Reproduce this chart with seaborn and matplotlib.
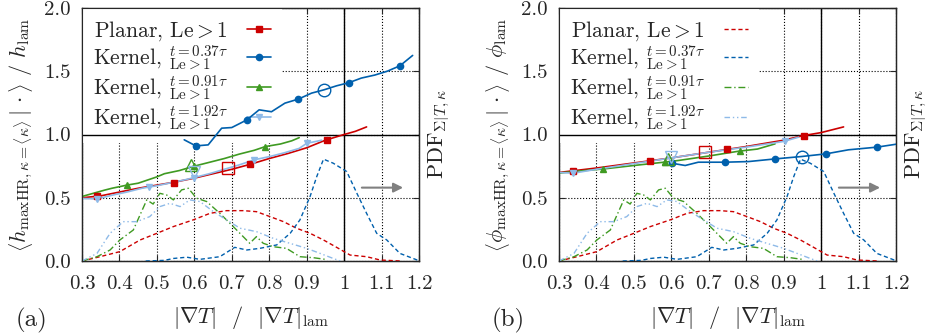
import matplotlib
matplotlib.use('Agg')
import matplotlib.pyplot as plt
from matplotlib.lines import Line2D
import seaborn as sns

# ---- colours ----
RED = '#cc0000'
BLUE = '#0060ad'
GREEN = '#3f9a22'
LBLUE = '#8ebae8'

# ---- panel (a): conditional mean of h ----
planar_h_x = [0.30, 0.35, 0.40, 0.45, 0.50, 0.55, 0.60, 0.65, 0.70, 0.75, 0.80, 0.85, 0.90, 0.95, 1.00, 1.03, 1.06]
planar_h_y = [0.50, 0.515, 0.545, 0.575, 0.60, 0.625, 0.655, 0.69, 0.725, 0.765, 0.81, 0.85, 0.895, 0.955, 1.00, 1.025, 1.06]
planar_h_mx = [0.34, 0.545, 0.748, 0.953]
planar_h_my = [0.51, 0.615, 0.768, 0.958]
planar_h_mean = (0.69, 0.733)

k037_h_x = [0.573, 0.604, 0.637, 0.673, 0.70, 0.74, 0.773, 0.806, 0.842, 0.878, 0.913, 0.946, 0.98, 1.013, 1.046, 1.082, 1.115, 1.149, 1.183]
k037_h_y = [0.958, 0.91, 0.918, 1.05, 1.055, 1.115, 1.195, 1.18, 1.248, 1.28, 1.327, 1.353, 1.385, 1.41, 1.446, 1.47, 1.50, 1.543, 1.625]
k037_h_mx = [0.604, 0.74, 0.878, 1.013, 1.149]
k037_h_my = [0.91, 1.115, 1.28, 1.41, 1.543]
k037_h_mean = (0.946, 1.353)

k091_h_x = [0.30, 0.33, 0.36, 0.38, 0.42, 0.45, 0.47, 0.50, 0.52, 0.56, 0.60, 0.64, 0.68, 0.72, 0.76, 0.79, 0.83, 0.86, 0.88]
k091_h_y = [0.51, 0.535, 0.56, 0.575, 0.60, 0.615, 0.635, 0.665, 0.69, 0.715, 0.75, 0.78, 0.81, 0.845, 0.875, 0.905, 0.925, 0.95, 0.975]
k091_h_mx = [0.42, 0.60, 0.79]
k091_h_my = [0.60, 0.75, 0.905]
k091_h_mean = (0.59, 0.755)

k192_h_x = [0.30, 0.34, 0.38, 0.42, 0.46, 0.50, 0.54, 0.58, 0.60, 0.64, 0.68, 0.72, 0.76, 0.80, 0.84, 0.88, 0.90, 0.94]
k192_h_y = [0.495, 0.49, 0.52, 0.545, 0.575, 0.595, 0.62, 0.645, 0.66, 0.69, 0.725, 0.76, 0.80, 0.825, 0.855, 0.89, 0.93, 0.955]
k192_h_mx = [0.34, 0.48, 0.60, 0.76, 0.90]
k192_h_my = [0.49, 0.585, 0.66, 0.80, 0.93]
k192_h_mean = (0.60, 0.70)

# ---- panel (b): conditional mean of phi ----
planar_p_x = [0.30, 0.40, 0.50, 0.60, 0.70, 0.80, 0.90, 0.95, 1.00, 1.06]
planar_p_y = [0.70, 0.735, 0.775, 0.815, 0.86, 0.905, 0.955, 0.99, 1.015, 1.06]
planar_p_mx = [0.338, 0.543, 0.748, 0.953]
planar_p_my = [0.715, 0.794, 0.884, 0.992]
planar_p_mean = (0.69, 0.865)

k037_p_x = [0.601, 0.637, 0.672, 0.708, 0.742, 0.806, 0.877, 0.948, 1.013, 1.073, 1.149, 1.20]
k037_p_y = [0.773, 0.755, 0.781, 0.781, 0.781, 0.786, 0.807, 0.826, 0.847, 0.879, 0.90, 0.923]
k037_p_mx = [0.601, 0.742, 0.877, 1.013, 1.149]
k037_p_my = [0.773, 0.781, 0.807, 0.847, 0.90]
k037_p_mean = (0.948, 0.826)

k091_p_x = [0.30, 0.35, 0.42, 0.50, 0.58, 0.62, 0.70, 0.78, 0.83, 0.877]
k091_p_y = [0.695, 0.71, 0.728, 0.755, 0.781, 0.795, 0.83, 0.868, 0.885, 0.926]
k091_p_mx = [0.418, 0.583, 0.784]
k091_p_my = [0.728, 0.781, 0.871]
k091_p_mean = (0.59, 0.81)

k192_p_x = [0.30, 0.338, 0.40, 0.50, 0.60, 0.70, 0.80, 0.90, 0.94]
k192_p_y = [0.70, 0.694, 0.725, 0.77, 0.815, 0.86, 0.90, 0.945, 0.979]
k192_p_mx = [0.338, 0.903]
k192_p_my = [0.694, 0.945]
k192_p_mean = (0.60, 0.826)

# ---- PDFs (same in both panels, right axis) ----
pdf_planar_x = [0.30, 0.348, 0.401, 0.455, 0.50, 0.544, 0.597, 0.642, 0.686, 0.731, 0.766, 0.802, 0.838, 0.873, 0.909, 0.945, 0.98, 1.016, 1.06, 1.096, 1.15]
pdf_planar_y = [0.0, 0.034, 0.074, 0.166, 0.219, 0.272, 0.325, 0.377, 0.398, 0.398, 0.39, 0.351, 0.311, 0.259, 0.219, 0.166, 0.108, 0.047, 0.034, 0.008, 0.0]

pdf_k037_x = [0.47, 0.52, 0.544, 0.58, 0.615, 0.668, 0.708, 0.74, 0.775, 0.82, 0.856, 0.882, 0.909, 0.927, 0.945, 0.971, 1.007, 1.034, 1.06, 1.087, 1.114, 1.149, 1.195, 1.20]
pdf_k037_y = [0.0, 0.005, 0.02, 0.03, 0.013, 0.034, 0.108, 0.087, 0.10, 0.127, 0.219, 0.325, 0.509, 0.668, 0.805, 0.773, 0.707, 0.536, 0.377, 0.219, 0.166, 0.06, 0.008, 0.005]

pdf_k091_x = [0.30, 0.34, 0.375, 0.401, 0.437, 0.473, 0.49, 0.508, 0.526, 0.544, 0.566, 0.584, 0.606, 0.633, 0.668, 0.704, 0.748, 0.766, 0.784, 0.811, 0.846, 0.882, 0.918, 0.95]
pdf_k091_y = [0.0, 0.034, 0.087, 0.166, 0.245, 0.483, 0.45, 0.535, 0.522, 0.483, 0.562, 0.575, 0.496, 0.47, 0.377, 0.272, 0.14, 0.193, 0.14, 0.113, 0.10, 0.034, 0.026, 0.013]

pdf_k192_x = [0.30, 0.34, 0.375, 0.41, 0.446, 0.481, 0.508, 0.535, 0.562, 0.588, 0.615, 0.651, 0.686, 0.722, 0.766, 0.811, 0.855, 0.90, 0.936, 0.971, 0.99]
pdf_k192_y = [0.0, 0.06, 0.219, 0.311, 0.311, 0.351, 0.43, 0.456, 0.43, 0.483, 0.47, 0.39, 0.325, 0.259, 0.232, 0.179, 0.14, 0.10, 0.06, 0.02, 0.0]

x_ticks = [0.3, 0.4, 0.5, 0.6, 0.7, 0.8, 0.9, 1.0, 1.1, 1.2]
x_ticklabels = ['0.3', '0.4', '0.5', '0.6', '0.7', '0.8', '0.9', '1', '1.1', '1.2']
y_ticks = [0.0, 0.5, 1.0, 1.5, 2.0]
y_ticklabels = ['0.0', '0.5', '1.0', '1.5', '2.0']

legend_labels = [r'Planar, $\mathrm{Le}>1$',
                 r'Kernel, $^{t=0.37\tau}_{\mathrm{Le}>1}$',
                 r'Kernel, $^{t=0.91\tau}_{\mathrm{Le}>1}$',
                 r'Kernel, $^{t=1.92\tau}_{\mathrm{Le}>1}$']

sns.set_style('ticks')
plt.rcParams['font.family'] = 'serif'
plt.rcParams['font.serif'] = ['cmr10']
plt.rcParams['mathtext.fontset'] = 'cm'
plt.rcParams['axes.formatter.use_mathtext'] = True

FS = 15

pdf_styles = [
    (pdf_planar_x, pdf_planar_y, RED, (0, (3, 2))),
    (pdf_k037_x, pdf_k037_y, BLUE, (0, (3, 2))),
    (pdf_k091_x, pdf_k091_y, GREEN, (0, (5, 2, 1, 2))),
    (pdf_k192_x, pdf_k192_y, LBLUE, (0, (4, 2, 1, 2, 1, 2))),
]

panels = [
    dict(lines=[(planar_h_x, planar_h_y, planar_h_mx, planar_h_my, planar_h_mean, RED, 's'),
                (k037_h_x, k037_h_y, k037_h_mx, k037_h_my, k037_h_mean, BLUE, 'o'),
                (k091_h_x, k091_h_y, k091_h_mx, k091_h_my, k091_h_mean, GREEN, '^'),
                (k192_h_x, k192_h_y, k192_h_mx, k192_h_my, k192_h_mean, LBLUE, 'v')],
         ylabel=r'$\left\langle h_{\mathrm{maxHR},\kappa=\langle\kappa\rangle}\,|\,\cdot\right\rangle$ / $h_{\mathrm{lam}}$',
         tag='(a)', left=82, legend='markers'),
    dict(lines=[(planar_p_x, planar_p_y, planar_p_mx, planar_p_my, planar_p_mean, RED, 's'),
                (k037_p_x, k037_p_y, k037_p_mx, k037_p_my, k037_p_mean, BLUE, 'o'),
                (k091_p_x, k091_p_y, k091_p_mx, k091_p_my, k091_p_mean, GREEN, '^'),
                (k192_p_x, k192_p_y, k192_p_mx, k192_p_my, k192_p_mean, LBLUE, 'v')],
         ylabel=r'$\left\langle \phi_{\mathrm{maxHR},\kappa=\langle\kappa\rangle}\,|\,\cdot\right\rangle$ / $\phi_{\mathrm{lam}}$',
         tag='(b)', left=559, legend='pdf'),
]

W, H = 930, 334
fig = plt.figure(figsize=(9.3, 3.34), dpi=100)

for p in panels:
    ax = fig.add_axes([p['left'] / W, 1 - 261 / H, 337 / W, 253 / H])
    ax2 = ax.twinx()

    ax.set_xlim(0.3, 1.2)
    ax.set_ylim(0, 2)
    ax2.set_ylim(0, 2)
    ax.set_axisbelow(True)
    ax.grid(True, ls=':', color='black', lw=0.8)
    ax.axhline(1.0, color='black', lw=1.0, zorder=4)
    ax.axvline(1.0, color='black', lw=1.0, zorder=4)

    for (lx, ly, mx, my, mean, c, m) in p['lines']:
        sns.lineplot(x=lx, y=ly, ax=ax, color=c, lw=1.2, zorder=5, sort=False)
        ax.plot(mx, my, ls='none', marker=m, color=c, ms=4.5, zorder=6)
        ax.plot([mean[0]], [mean[1]], ls='none', marker=m, mfc='none', mec=c, ms=9, mew=1.0, zorder=6)

    for (px, py, c, ls) in pdf_styles:
        sns.lineplot(x=px, y=py, ax=ax2, color=c, lw=1.0, linestyle=ls, sort=False)

    ax2.annotate('', xy=(1.165, 0.58), xytext=(1.04, 0.58),
                 arrowprops=dict(arrowstyle='-|>', color='#808080', lw=1.5, mutation_scale=14))

    ax.set_xticks(x_ticks)
    ax.set_xticklabels(x_ticklabels)
    ax.set_yticks(y_ticks)
    ax.set_yticklabels(y_ticklabels)
    ax.tick_params(axis='x', direction='in', top=True, labelsize=FS, length=4, width=0.8, pad=10)
    ax.tick_params(axis='y', direction='in', right=True, labelsize=FS, length=4, width=0.8, pad=8)
    ax2.set_yticks([])
    for sp in ax.spines.values():
        sp.set_linewidth(1.0)

    ax.set_xlabel(r'$|\nabla T|$  /  $|\nabla T|_{\mathrm{lam}}$', fontsize=FS + 1, labelpad=8)
    ax.set_ylabel(p['ylabel'], fontsize=FS + 1, labelpad=6)
    ax2.set_ylabel(r'$\mathrm{PDF}_{\Sigma|T,\kappa}$', fontsize=FS + 1, labelpad=5)

    if p['legend'] == 'markers':
        handles = [Line2D([], [], color=c, marker=m, ms=4.5, lw=1.2) for (_, _, _, _, _, c, m) in p['lines']]
    else:
        handles = [Line2D([], [], color=c, ls=ls, lw=1.0) for (_, _, c, ls) in pdf_styles]
    leg = ax.legend(handles, legend_labels, loc='upper left', fontsize=FS + 0.5,
                    markerfirst=False, handlelength=1.1, handletextpad=0.9,
                    labelspacing=0.08, borderaxespad=0.0, borderpad=0.5,
                    frameon=True, facecolor='white', edgecolor='none', framealpha=1.0,
                    fancybox=False)
    leg.set_zorder(3)

    fig.text((p['left'] - 51) / W, 1 - 320 / H, p['tag'], fontsize=FS + 3, ha='center', va='center')

fig.savefig('out.png', dpi=100)
